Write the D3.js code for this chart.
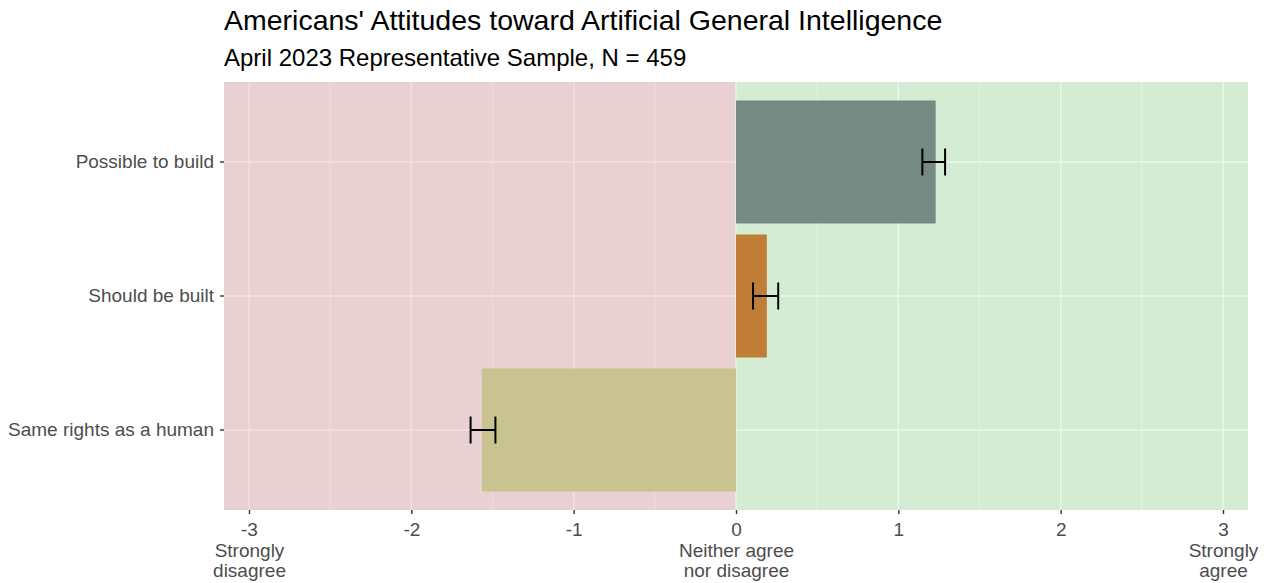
<!DOCTYPE html>
<html>
<head>
<meta charset="utf-8" />
<script src="https://cdn.jsdelivr.net/npm/d3@7"></script>
<style>
  body { margin: 0; background: #fff; }
  svg text { font-family: "Liberation Sans", Arial, sans-serif; }
</style>
</head>
<body>
<script>
// data
const items = ["Possible to build", "Should be built", "Same rights as a human"];
const means = [1.23, 0.19, -1.565];
const lower = [1.148, 0.105, -1.635];
const upper = [1.288, 0.26, -1.482];
const barColors = ["#768a84", "#c07d38", "#c8c391"];
const tickValues = [-3, -2, -1, 0, 1, 2, 3];
const tickNotes = { "-3": ["Strongly", "disagree"], "0": ["Neither agree", "nor disagree"], "3": ["Strongly", "agree"] };

const width = 1270, height = 583;
const panelLeft = 224, panelRight = 1248, panelTop = 82, panelBottom = 510;
const fontAxis = 19;

const svg = d3.select("body").append("svg")
    .attr("width", width)
    .attr("height", height);

const x = d3.scaleLinear().domain([-3.154, 3.154]).range([panelLeft, panelRight]);
const y = d3.scaleBand().domain(items).range([panelTop, panelBottom])
    .paddingInner(0.082).paddingOuter(0.138);

// red / green halves
svg.append("rect")
    .attr("x", x(-3.154)).attr("y", panelTop)
    .attr("width", x(0) - x(-3.154)).attr("height", panelBottom - panelTop)
    .attr("fill", "#e9d1d3");
svg.append("rect")
    .attr("x", x(0)).attr("y", panelTop)
    .attr("width", x(3.154) - x(0)).attr("height", panelBottom - panelTop)
    .attr("fill", "#d4ebd4");

// grid lines, tinted per side
const gridColor = v => (v < 0 ? "#fcdcdd" : "#e6fbe4");
const minor = [-2.5, -1.5, -0.5, 0.5, 1.5, 2.5];
svg.append("g").selectAll("line").data(minor).join("line")
    .attr("x1", d => x(d)).attr("x2", d => x(d))
    .attr("y1", panelTop).attr("y2", panelBottom)
    .attr("stroke", gridColor).attr("stroke-width", 0.7);
svg.append("g").selectAll("line").data(tickValues).join("line")
    .attr("x1", d => x(d)).attr("x2", d => x(d))
    .attr("y1", panelTop).attr("y2", panelBottom)
    .attr("stroke", gridColor).attr("stroke-width", 1.4);

// horizontal grid, split at zero
items.forEach(function (it) {
    const cy = y(it) + y.bandwidth() / 2;
    svg.append("line").attr("x1", panelLeft).attr("x2", x(0))
        .attr("y1", cy).attr("y2", cy)
        .attr("stroke", "#fcdcdd").attr("stroke-width", 1.4);
    svg.append("line").attr("x1", x(0)).attr("x2", panelRight)
        .attr("y1", cy).attr("y2", cy)
        .attr("stroke", "#e6fbe4").attr("stroke-width", 1.4);
});

// bars
svg.append("g").selectAll("rect").data(items).join("rect")
    .attr("x", (d, i) => x(Math.min(0, means[i])))
    .attr("y", d => y(d))
    .attr("width", (d, i) => Math.abs(x(means[i]) - x(0)))
    .attr("height", y.bandwidth())
    .attr("fill", (d, i) => barColors[i]);

// error bars
const capH = 27;
const eb = svg.append("g").attr("stroke", "#000").attr("stroke-width", 2).attr("fill", "none");
items.forEach(function (it, i) {
    const cy = y(it) + y.bandwidth() / 2;
    eb.append("line").attr("x1", x(lower[i])).attr("x2", x(upper[i]))
        .attr("y1", cy).attr("y2", cy);
    eb.append("line").attr("x1", x(lower[i])).attr("x2", x(lower[i]))
        .attr("y1", cy - capH / 2).attr("y2", cy + capH / 2);
    eb.append("line").attr("x1", x(upper[i])).attr("x2", x(upper[i]))
        .attr("y1", cy - capH / 2).attr("y2", cy + capH / 2);
});

// x axis
const xAxis = svg.append("g").attr("transform", `translate(0,${panelBottom})`)
    .call(d3.axisBottom(x).tickValues(tickValues).tickSize(4).tickPadding(9)
        .tickFormat(d => d3.format("d")(d).replace("−", "-")));
xAxis.select(".domain").remove();
xAxis.selectAll(".tick line").attr("stroke", "#333").attr("stroke-width", 1.4);
xAxis.selectAll(".tick text").attr("font-size", fontAxis).attr("fill", "#4d4d4d")
    .attr("font-family", "Liberation Sans, Arial, sans-serif");
xAxis.selectAll(".tick").each(function (d) {
    const notes = tickNotes[String(d)];
    if (!notes) return;
    const t = d3.select(this).append("text")
        .attr("text-anchor", "middle")
        .attr("font-size", fontAxis).attr("fill", "#4d4d4d")
        .attr("font-family", "Liberation Sans, Arial, sans-serif");
    notes.forEach(function (n, k) {
        t.append("tspan").attr("x", 0).attr("y", 47 + k * 20).text(n);
    });
});

// y axis
const yAxis = svg.append("g").attr("transform", `translate(${panelLeft},0)`)
    .call(d3.axisLeft(y).tickSize(4).tickPadding(6));
yAxis.select(".domain").remove();
yAxis.selectAll(".tick line").attr("stroke", "#333").attr("stroke-width", 1.4);
yAxis.selectAll(".tick text").attr("font-size", fontAxis).attr("fill", "#4d4d4d")
    .attr("font-family", "Liberation Sans, Arial, sans-serif");

// titles
svg.append("text").attr("x", panelLeft).attr("y", 30)
    .attr("font-size", 28.5).attr("fill", "#000")
    .text("Americans' Attitudes toward Artificial General Intelligence");
svg.append("text").attr("x", panelLeft).attr("y", 66)
    .attr("font-size", 24).attr("fill", "#000")
    .text("April 2023 Representative Sample, N = 459");
</script>
</body>
</html>
